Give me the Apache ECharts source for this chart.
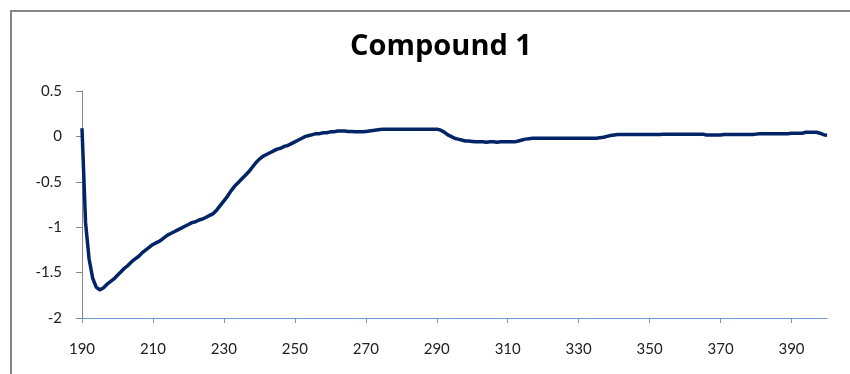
<!DOCTYPE html>
<html>
<head>
<meta charset="utf-8">
<script src="https://cdn.jsdelivr.net/npm/echarts@6/dist/echarts.min.js"></script>
<style>html,body{margin:0;padding:0;background:#fff}#c{width:850px;height:374px}</style>
</head>
<body>
<div id="c"></div>
<script>
var title = "Compound 1";
var wavelengths = [];
for (var w = 190; w <= 400; w++) wavelengths.push(String(w));
var yTicks = [-2, -1.5, -1, -0.5, 0, 0.5];
// CD values, 190..400 nm, 1 nm step
var cd190_229 = [0.09,-0.95,-1.35,-1.56,-1.66,-1.69,-1.67,-1.63,-1.60,-1.57,
  -1.53,-1.49,-1.45,-1.42,-1.38,-1.35,-1.32,-1.28,-1.25,-1.22,
  -1.19,-1.17,-1.15,-1.12,-1.09,-1.07,-1.05,-1.03,-1.01,-0.99,
  -0.97,-0.95,-0.94,-0.92,-0.91,-0.89,-0.87,-0.85,-0.81,-0.76];
var cd230_269 = [-0.71,-0.66,-0.60,-0.55,-0.51,-0.47,-0.43,-0.39,-0.34,-0.29,
  -0.25,-0.22,-0.20,-0.18,-0.16,-0.14,-0.13,-0.11,-0.10,-0.08,
  -0.06,-0.04,-0.02,0.00,0.01,0.02,0.03,0.03,0.04,0.04,
  0.05,0.05,0.06,0.06,0.06,0.055,0.055,0.05,0.05,0.05];
var cd270_309 = [0.055,0.06,0.065,0.07,0.075,0.08,0.08,0.08,0.08,0.08,
  0.08,0.08,0.08,0.08,0.08,0.08,0.08,0.08,0.08,0.08,
  0.08,0.07,0.05,0.02,0.00,-0.02,-0.03,-0.04,-0.05,-0.05,
  -0.055,-0.06,-0.06,-0.06,-0.065,-0.06,-0.06,-0.065,-0.06,-0.06];
var cd310_349 = [-0.06,-0.06,-0.06,-0.05,-0.04,-0.03,-0.025,-0.02,-0.02,-0.02,
  -0.02,-0.02,-0.02,-0.02,-0.02,-0.02,-0.02,-0.02,-0.02,-0.02,
  -0.02,-0.02,-0.02,-0.02,-0.02,-0.02,-0.015,-0.01,0.00,0.01,
  0.015,0.02,0.02,0.02,0.02,0.02,0.02,0.02,0.02,0.02];
var cd350_400 = [0.02,0.02,0.02,0.02,0.025,0.025,0.025,0.025,0.025,0.025,
  0.025,0.025,0.025,0.025,0.025,0.025,0.015,0.015,0.015,0.015,
  0.015,0.02,0.02,0.02,0.02,0.02,0.02,0.02,0.02,0.02,
  0.025,0.03,0.03,0.03,0.03,0.03,0.03,0.03,0.03,0.03,
  0.035,0.035,0.035,0.035,0.045,0.045,0.045,0.045,0.035,0.02,0.01];
var cdValues = cd190_229.concat(cd230_269, cd270_309, cd310_349, cd350_400);

var chart = echarts.init(document.getElementById('c'), null, {renderer: 'canvas'});
chart.setOption({
  animation: false,
  backgroundColor: '#fff',
  title: {
    text: title, left: 436, top: 27, textAlign: 'center',
    textStyle: {fontFamily: 'Open Sans', fontWeight: 'bold', fontSize: 29, color: '#000'}
  },
  graphic: [{
    type: 'rect', shape: {x: 11, y: 11, width: 900, height: 500},
    style: {fill: 'none', stroke: '#868686', lineWidth: 2}, silent: true
  }],
  grid: {left: 82, right: 23, top: 91, bottom: 56},
  xAxis: {
    type: 'category', data: wavelengths, boundaryGap: false,
    axisLine: {onZero: false, lineStyle: {color: '#6f9ad1', width: 1}},
    axisTick: {interval: 19, length: 5, lineStyle: {color: '#6f9ad1'}},
    axisLabel: {interval: 19, margin: 24, fontFamily: 'Lato', fontSize: 15, color: '#222'},
    splitLine: {show: false}
  },
  yAxis: {
    type: 'value', min: yTicks[0], max: yTicks[yTicks.length - 1], interval: 0.5,
    axisLine: {show: true, lineStyle: {color: '#868686'}},
    axisTick: {show: true, length: 6, lineStyle: {color: '#868686'}},
    axisLabel: {margin: 20, fontFamily: 'Lato', fontSize: 15, color: '#222'},
    splitLine: {show: false}
  },
  series: [{
    type: 'line', data: cdValues, showSymbol: false, symbol: 'none',
    lineStyle: {color: '#002466', width: 3.5}, smooth: false
  }]
});
</script>
</body>
</html>
